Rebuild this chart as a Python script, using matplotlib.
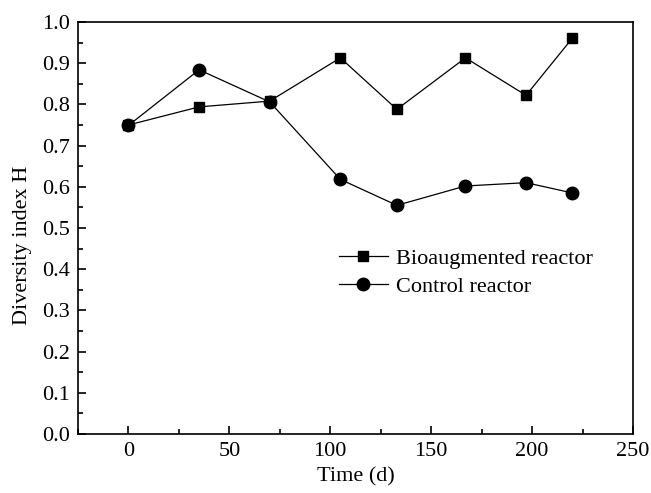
import matplotlib
matplotlib.use("Agg")
import matplotlib.pyplot as plt
from matplotlib.ticker import MultipleLocator, FormatStrFormatter

# sampling days
days = [0, 35, 70, 105, 133, 167, 197, 220]
# diversity index H
bioaugmented = [0.750, 0.794, 0.808, 0.913, 0.788, 0.913, 0.822, 0.961]
control = [0.749, 0.884, 0.806, 0.618, 0.555, 0.602, 0.610, 0.585]

plt.rcParams['font.family'] = ['Liberation Serif', 'DejaVu Serif']
plt.rcParams['font.size'] = 16

fig = plt.figure(figsize=(6.51, 4.93), dpi=100)
ax = fig.add_axes([78 / 651, 1 - 434 / 493, 555 / 651, 412 / 493])

ax.plot(days, bioaugmented, color='black', lw=0.9, marker='s', ms=7.5,
        label='Bioaugmented reactor')
ax.plot(days, control, color='black', lw=0.9, marker='o', ms=9,
        label='Control reactor')

ax.set_xlim(-25, 250)
ax.set_ylim(0, 1.0)
ax.xaxis.set_major_locator(MultipleLocator(50))
ax.xaxis.set_minor_locator(MultipleLocator(25))
ax.yaxis.set_major_locator(MultipleLocator(0.1))
ax.yaxis.set_minor_locator(MultipleLocator(0.05))
ax.yaxis.set_major_formatter(FormatStrFormatter('%.1f'))
ax.tick_params(which='both', direction='in', top=False, right=False, width=1.2)
ax.tick_params(which='major', length=6, labelsize=16, pad=6)
ax.tick_params(which='minor', length=3.5)
for s in ax.spines.values():
    s.set_linewidth(1.2)

ax.set_xlabel('Time (d)', fontsize=16)
ax.set_ylabel('Diversity index H', fontsize=16)
ax.yaxis.set_label_coords(-0.082, 0.459)

ax.legend(loc='upper left', bbox_to_anchor=(0.47, 0.45), frameon=False,
          fontsize=16, handlelength=2.2, handletextpad=0.35,
          labelspacing=0.33, borderaxespad=0, borderpad=0)

fig.savefig('out.png', dpi=100)
